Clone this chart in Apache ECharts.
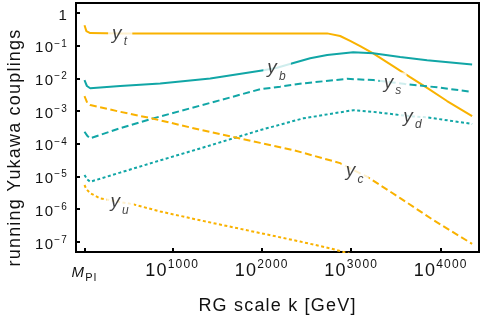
<!DOCTYPE html>
<html><head><meta charset="utf-8">
<script src="https://cdn.jsdelivr.net/npm/echarts@6/dist/echarts.min.js"></script>
<style>html,body{margin:0;padding:0;background:#fff}#c{width:482px;height:318px}</style>
</head><body><div id="c"></div>
<script>
// slight letter spacing like the reference's exported text
(function(){
  var LS='1.2px';
  var P=CanvasRenderingContext2D.prototype;
  if(!('letterSpacing' in P)) return;
  var ft=P.fillText, st=P.strokeText, mt=P.measureText;
  P.fillText=function(){this.letterSpacing=LS;return ft.apply(this,arguments);};
  P.strokeText=function(){this.letterSpacing=LS;return st.apply(this,arguments);};
  P.measureText=function(){this.letterSpacing=LS;return mt.apply(this,arguments);};
})();

// x values: log10(k / GeV); y values: log10(coupling)
var xTickValues=[19,1000,2000,3000,4000];
var yTickValues=[-7,-6,-5,-4,-3,-2,-1,0];

var xT=[19,40,83,418,1982,2731,2876,2988,3100,3245,3468,3658,3848,4071,4351];
var yT=[-0.37,-0.55,-0.61,-0.62,-0.62,-0.62,-0.70,-0.85,-1.01,-1.23,-1.62,-1.96,-2.29,-2.69,-3.15];

var xB=[19,46,83,418,865,1424,2038,2172,2295,2541,2731,3022,3245,3547,3848,4351];
var yB=[-2.05,-2.23,-2.30,-2.23,-2.15,-2.00,-1.74,-1.67,-1.57,-1.38,-1.28,-1.20,-1.23,-1.34,-1.44,-1.57];

var xS=[19,49,83,418,787,1312,1982,2206,2463,2955,3245,3468,3603,3960,4351];
var yS=[-3.63,-3.75,-3.83,-3.52,-3.22,-2.83,-2.33,-2.25,-2.15,-2.01,-2.05,-2.12,-2.17,-2.27,-2.41];

var xD=[19,49,83,418,787,1312,1982,2463,3022,3245,3547,3692,3849,4351];
var yD=[-4.95,-5.09,-5.16,-4.88,-4.57,-4.14,-3.58,-3.22,-2.97,-3.02,-3.12,-3.16,-3.19,-3.39];

var xC=[19,49,83,418,787,1312,1982,2351,2876,3044,3174,3547,3916,4351];
var yC=[-2.54,-2.74,-2.81,-3.02,-3.23,-3.57,-3.97,-4.19,-4.59,-4.83,-5.00,-5.66,-6.33,-7.06];

var xU=[19,38,83,194,418,563,865,1312,1982,2429,2783,2988];
var yU=[-5.26,-5.38,-5.51,-5.67,-5.78,-5.85,-6.07,-6.34,-6.73,-6.99,-7.21,-7.37];

var ORANGE='#F9B200', TEAL='#11A6A6';
var FONT='Liberation Sans';
var DASH={solid:'solid', dashed:[7,3.5], dotted:[3,2.5]};

var curves=[
  {sub:'t', xs:xT, ys:yT, color:ORANGE, dash:'solid',  lab:3},
  {sub:'b', xs:xB, ys:yB, color:TEAL,   dash:'solid',  lab:7},
  {sub:'s', xs:xS, ys:yS, color:TEAL,   dash:'dashed', lab:11},
  {sub:'d', xs:xD, ys:yD, color:TEAL,   dash:'dotted', lab:11},
  {sub:'c', xs:xC, ys:yC, color:ORANGE, dash:'dashed', lab:9},
  {sub:'u', xs:xU, ys:yU, color:ORANGE, dash:'dotted', lab:4}
];

function pts(xs,ys){return xs.map(function(x,i){return [x,ys[i]];});}

var series=curves.map(function(c){
  return {type:'line', name:'y_'+c.sub, data:pts(c.xs,c.ys), showSymbol:false, symbol:'none',
    lineStyle:{color:c.color, width:2, type:DASH[c.dash], cap:'butt'}, z:2, silent:true};
});
series.push({
  type:'scatter', z:5, silent:true, symbolSize:1, itemStyle:{color:'rgba(0,0,0,0)'},
  data:curves.map(function(c){return {value:[c.xs[c.lab], c.ys[c.lab]], label:{formatter:'{i|y}{s|'+c.sub+'}'}};}),
  label:{show:true, position:'inside', backgroundColor:'#fff', padding:[0,4,0,4],
    rich:{
      i:{fontSize:19, fontStyle:'italic', fontFamily:FONT, color:'#111', lineHeight:20, verticalAlign:'top'},
      s:{fontSize:12, fontStyle:'italic', fontFamily:FONT, color:'#111', lineHeight:12, verticalAlign:'top', padding:[12,0,0,1]}
    }}
});

var axisLineStyle={color:'#000', width:2};
var option={
  animation:false,
  backgroundColor:'#fff',
  grid:{left:76, right:3, top:3, bottom:66, show:true, borderColor:'#000', borderWidth:2, containLabel:false, outerBoundsMode:'none'},
  xAxis:{type:'value', min:-76, max:4428,
    axisLine:{show:true, onZero:false, lineStyle:axisLineStyle},
    axisTick:{show:true, inside:true, length:4, customValues:xTickValues, lineStyle:axisLineStyle},
    splitLine:{show:false},
    axisLabel:{customValues:xTickValues, margin:4, color:'#111', fontFamily:FONT,
      formatter:function(v){ return v<500 ? '{m|M}{p|Pl}' : '{b|10}{s|'+Math.round(v)+'}'; },
      rich:{
        b:{fontSize:18, lineHeight:18, fontFamily:FONT, color:'#111', verticalAlign:'top', padding:[5,0,0,0]},
        s:{fontSize:12, lineHeight:12, fontFamily:FONT, color:'#111', verticalAlign:'top', padding:[2,0,0,0]},
        m:{fontSize:15, lineHeight:15, fontStyle:'italic', fontFamily:FONT, color:'#111', verticalAlign:'top', padding:[9,0,0,0]},
        p:{fontSize:11, lineHeight:11, fontFamily:FONT, color:'#111', verticalAlign:'top', padding:[16,0,0,0]}
      }},
    name:'RG scale k [GeV]', nameLocation:'middle', nameGap:44,
    nameTextStyle:{fontSize:18, color:'#111', fontFamily:FONT}
  },
  yAxis:{type:'value', min:-7.31, max:0.31,
    axisLine:{show:true, onZero:false, lineStyle:axisLineStyle},
    axisTick:{show:true, inside:true, length:4, customValues:yTickValues, lineStyle:axisLineStyle},
    splitLine:{show:false},
    axisLabel:{customValues:yTickValues, margin:8, color:'#111', fontFamily:FONT,
      formatter:function(v){ var n=Math.round(v); return n===0 ? '{b|1}' : '{b|10}{s|\u2212'+(-n)+'}'; },
      rich:{
        b:{fontSize:15, lineHeight:15, fontFamily:FONT, color:'#111', padding:[5,0,0,0]},
        s:{fontSize:10, lineHeight:13, fontFamily:FONT, color:'#111', verticalAlign:'top'}
      }},
    name:'running Yukawa couplings', nameLocation:'middle', nameGap:47,
    nameTextStyle:{fontSize:18, color:'#111', fontFamily:FONT, padding:[0,40,0,0]}
  },
  series:series
};
var chart=echarts.init(document.getElementById('c'), null, {renderer:'canvas'});
chart.setOption(option);
</script></body></html>
